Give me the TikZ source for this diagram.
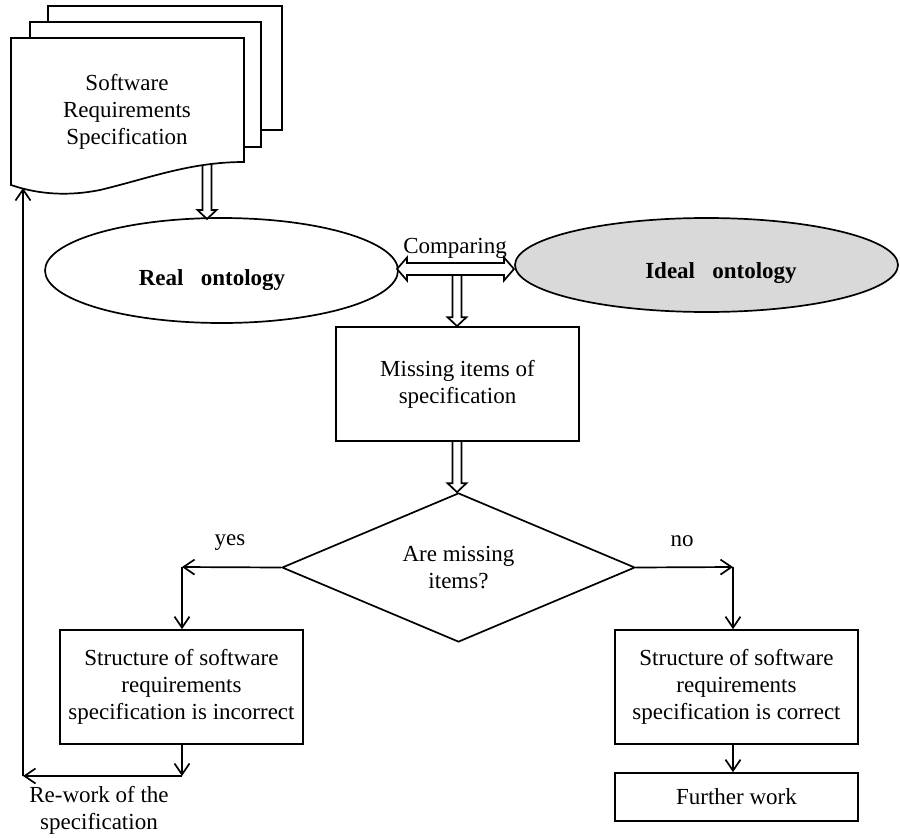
\documentclass[tikz,border=0pt]{standalone}
\usepackage{fontspec}
\setmainfont{Liberation Serif}
\usetikzlibrary{arrows.meta,shapes.geometric,calc}
\definecolor{idealgray}{RGB}{217,217,217}
\newcommand\hollowdn[2]{\path[hollow] let \p1=(#1), \p2=(#2) in
  (\x1-4.5pt,\y1) -- (\x1-4.5pt,\y2+9pt) -- (\x1-9.5pt,\y2+9pt) -- (\x1,\y2) --
  (\x1+9.5pt,\y2+9pt) -- (\x1+4.5pt,\y2+9pt) -- (\x1+4.5pt,\y1) -- cycle;}
\begin{document}
\begin{tikzpicture}[x=1pt,y=-1pt,
  every node/.style={font=\fontsize{23}{27}\selectfont},
  bold/.style={font=\fontsize{23}{27}\selectfont\bfseries},
  line/.style={line width=1.7pt},
  arr/.style={line, -{Straight Barb[length=11pt,width=15pt,line width=1.7pt]}},
  box/.style={draw, line width=1.7pt, minimum width=243pt, inner sep=0pt, align=center},
  hollow/.style={draw, line width=1.7pt, fill=white, line join=miter},
  page/.style={draw, line width=1.7pt, fill=white},
  oval/.style={draw, ellipse, line width=1.7pt, inner sep=0pt},
]
\useasboundingbox (0,0) rectangle (900,838);

% arrow from document to real ontology (drawn first, document covers its top)
\coordinate (docarr) at (207,160);
\coordinate (realtop) at (207,219);
\hollowdn{docarr}{realtop}

% document stack
\draw[page] (48,6) rectangle (282,130);
\draw[page] (30,22) rectangle (261,147);
\draw[page] (11,38) -- (244,38) -- (244,162)
  .. controls (190,162) and (150,178) .. (100,190)
  .. controls (70,196) and (40,195) .. (11,185) -- cycle;
\node[align=center] (doc) at (127,112) {Software\\Requirements\\Specification};

% ontologies
\node[oval, minimum width=353pt, minimum height=105pt] (real) at (221.5,270.5) {};
\node[bold] (reallbl) at (212,280) {Real\hspace{0.5em} ontology};
\node[oval, fill=idealgray, minimum width=383pt, minimum height=94pt] (ideal) at (706.5,265) {};
\node[bold] (ideallbl) at (721,273) {Ideal\hspace{0.5em} ontology};

% missing items box
\node[box, minimum height=114pt] (miss) at (457.5,384) {Missing items of\\specification};

% comparing arrows
\coordinate (cmpC) at (457,269);
\hollowdn{cmpC}{miss.north}
\coordinate (cmpL) at (397,269);
\coordinate (cmpR) at (514,269);
\path[hollow] let \p1=(cmpL), \p2=(cmpR) in
  (\x1,\y1) -- (\x1+10pt,\y1+11.5pt) -- (\x1+10pt,\y1+6pt) -- (\x2-10pt,\y1+6pt) --
  (\x2-10pt,\y1+11.5pt) -- (\x2,\y1) -- (\x2-10pt,\y1-11.5pt) -- (\x2-10pt,\y1-6pt) --
  (\x1+10pt,\y1-6pt) -- (\x1+10pt,\y1-11.5pt) -- cycle;
\node (cmplbl) at (455,248) {Comparing};

% decision
\node[draw, diamond, aspect=2.37, line width=1.7pt, minimum width=353pt, minimum height=149pt,
      inner sep=0pt, align=center] (dec) at (458.5,567.5) {Are missing\\items?};
\coordinate (missbot) at (457,441);
\hollowdn{missbot}{dec.north}

% outcome boxes
\node[box, minimum height=114pt] (bad) at (181.5,687)
  {Structure of software\\requirements\\specification is incorrect};
\node[box, minimum height=114pt] (good) at (736.5,687)
  {Structure of software\\requirements\\specification is correct};
\node[box, minimum height=48pt] (further) at (736.5,797) {Further work};

% yes branch
\coordinate (ycorner) at (182,567);
\draw[arr] (dec.west) -- (ycorner);
\draw[arr] (ycorner) -- (ycorner |- bad.north);
\node (yeslbl) at (230,543) {yes};

% no branch
\coordinate (ncorner) at (733,567);
\draw[arr] (dec.east) -- (ncorner);
\draw[arr] (ncorner) -- (ncorner |- good.north);
\node (nolbl) at (682,541) {no};
\draw[arr] (good.south -| ncorner) -- (ncorner |- further.north);

% rework loop
\coordinate (rcorner) at (182,776);
\coordinate (lcorner) at (23,776);
\coordinate (fbend) at (23,188);
\draw[arr] (bad.south -| rcorner) -- (rcorner);
\draw[arr] (rcorner) -- (lcorner);
\draw[arr] (lcorner) -- (fbend);
\node[align=center] (rework) at (99,810) {Re-work of the\\specification};
\end{tikzpicture}
\end{document}
